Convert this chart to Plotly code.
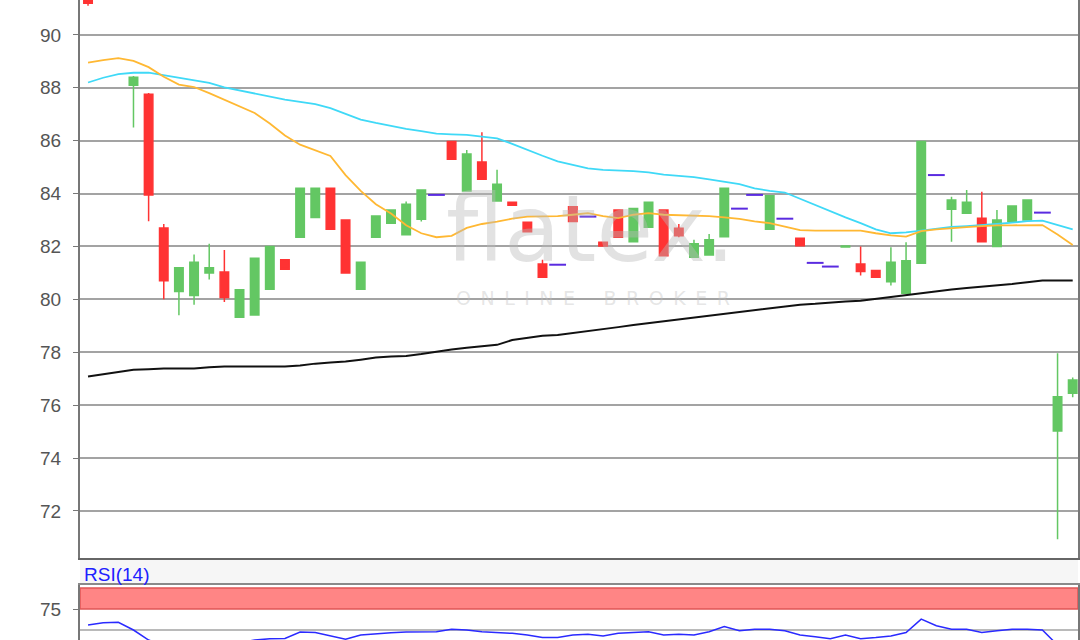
import plotly.graph_objects as go

# ---------------- data ----------------
candle_idx = [0, 3, 4, 5, 6, 7, 8, 9, 10, 11, 12, 13, 14, 15, 16, 17, 18, 19, 20, 21, 22,
              24, 25, 26, 27, 28, 29, 30, 32, 34, 35, 36, 37, 38, 39, 40, 41, 42, 45, 47,
              50, 51, 52, 53, 54, 55, 57, 58, 59, 60, 61, 62, 64, 65]
opens = [91.8, 88.1, 87.76, 82.7, 80.3, 80.15, 81.0, 81.03, 79.32, 79.41, 80.38, 81.5, 82.35, 83.1, 84.2, 83.0, 80.38, 82.35, 82.88, 82.44, 83.03,
         85.97, 84.1, 85.19, 83.72, 83.67, 82.92, 81.34, 83.5, 82.16, 83.38, 82.18, 82.73, 83.38, 82.69, 81.59, 81.68, 82.37, 82.65, 82.31,
         81.98, 81.34, 81.09, 80.67, 80.23, 81.37, 83.41, 83.26, 83.07, 82.0, 82.94, 83.0, 75.02, 76.45]
highs = [92.0, 88.45, 87.8, 82.85, 81.2, 81.7, 82.1, 81.87, 80.36, 81.55, 82.0, 81.5, 84.2, 84.2, 84.2, 83.0, 81.4, 83.15, 83.38, 83.7, 84.14,
         85.97, 85.65, 86.32, 84.9, 83.67, 82.92, 81.5, 83.5, 82.16, 83.38, 83.44, 83.67, 83.38, 82.85, 82.25, 82.47, 84.2, 83.92, 82.31,
         82.02, 82.0, 81.09, 81.97, 82.16, 85.97, 83.88, 84.14, 84.07, 83.38, 83.53, 83.76, 77.96, 77.05]
lows = [91.1, 86.5, 82.95, 80.0, 79.4, 79.8, 80.75, 79.9, 79.3, 79.41, 80.38, 81.14, 82.35, 83.1, 82.65, 81.0, 80.38, 82.35, 82.88, 82.44, 82.94,
        85.3, 84.1, 84.54, 83.72, 83.56, 82.56, 80.84, 82.94, 82.02, 82.35, 82.18, 82.73, 81.65, 82.35, 81.59, 81.68, 82.37, 82.65, 82.03,
        81.98, 80.9, 80.84, 80.52, 80.2, 81.37, 82.18, 83.26, 82.18, 82.0, 82.94, 83.0, 70.93, 76.3]
closes = [91.2, 88.4, 83.95, 80.7, 81.2, 81.4, 81.2, 80.07, 80.36, 81.55, 82.0, 81.14, 84.2, 84.2, 82.65, 81.0, 81.4, 83.15, 83.38, 83.6, 84.14,
          85.3, 85.5, 84.54, 84.35, 83.56, 82.56, 80.84, 82.94, 82.02, 82.35, 83.44, 83.67, 81.65, 82.41, 82.1, 82.25, 84.2, 83.92, 82.03,
          82.02, 81.05, 80.84, 81.4, 81.46, 85.97, 83.76, 83.67, 82.18, 83.0, 83.53, 83.76, 76.32, 76.95]

flat_idx = [23, 31, 33, 43, 44, 46, 48, 49, 56, 63]
flat_price = [83.95, 81.31, 83.13, 83.43, 83.95, 83.05, 81.38, 81.24, 84.7, 83.28]

days = list(range(66))
ma_orange = [88.95, 89.05, 89.12, 89.02, 88.78, 88.42, 88.12, 88.03, 87.8, 87.55,
             87.29, 87.05, 86.65, 86.2, 85.85, 85.65, 85.42, 84.7, 84.1, 83.6,
             83.25, 82.8, 82.5, 82.35, 82.4, 82.7, 82.85, 82.94, 83.05, 83.13,
             83.15, 83.15, 83.2, 83.26, 83.15, 83.07, 83.2, 83.26, 83.2, 83.19,
             83.17, 83.15, 83.1, 83.04, 82.95, 82.88, 82.75, 82.62, 82.6, 82.6,
             82.6, 82.6, 82.5, 82.42, 82.37, 82.58, 82.65, 82.7, 82.73, 82.77,
             82.8, 82.8, 82.81, 82.81, 82.45, 82.06]
ma_cyan = [88.2, 88.38, 88.52, 88.57, 88.57, 88.48, 88.37, 88.28, 88.19, 88.02,
           87.9, 87.8, 87.68, 87.55, 87.47, 87.38, 87.23, 87.0, 86.8, 86.67,
           86.55, 86.45, 86.36, 86.27, 86.24, 86.22, 86.15, 86.09, 85.88, 85.65,
           85.43, 85.22, 85.08, 84.95, 84.9, 84.88, 84.85, 84.8, 84.72, 84.67,
           84.62, 84.54, 84.45, 84.36, 84.2, 84.1, 84.04, 83.8, 83.58, 83.35,
           83.1, 82.88, 82.65, 82.5, 82.53, 82.6, 82.68, 82.74, 82.77, 82.8,
           82.85, 82.9, 82.96, 82.98, 82.82, 82.65]
ma_black = [77.08, 77.17, 77.27, 77.34, 77.36, 77.39, 77.39, 77.39, 77.43, 77.46,
            77.46, 77.46, 77.46, 77.46, 77.5, 77.57, 77.61, 77.65, 77.72, 77.8,
            77.84, 77.86, 77.93, 78.02, 78.1, 78.17, 78.23, 78.28, 78.46, 78.53,
            78.62, 78.65, 78.72, 78.8, 78.88, 78.95, 79.03, 79.1, 79.18, 79.25,
            79.33, 79.4, 79.47, 79.54, 79.6, 79.67, 79.74, 79.8, 79.83, 79.88,
            79.92, 79.95, 80.02, 80.1, 80.17, 80.25, 80.31, 80.37, 80.43, 80.48,
            80.51, 80.58, 80.65, 80.71, 80.71, 80.71]
rsi = [56, 58.5, 59.2, 50, 38, 32, 33, 34, 35, 33,
       35, 38, 39.5, 40, 47.5, 47, 43, 39, 44, 45.5,
       46.8, 47.5, 48, 48, 51, 50, 48, 47, 46, 44,
       41, 41, 44, 45, 43, 46, 47, 48, 44, 45,
       44, 48, 54, 49.2, 51, 51, 49, 44, 42, 39.5,
       44, 39.5, 41, 43, 47, 63, 55, 51, 51, 47,
       49, 51, 51, 50, 32, 35]

price_ticks = [72, 74, 76, 78, 80, 82, 84, 86, 88, 90]
rsi_ticks = [75]
rsi_band = [75, 100]
rsi_mid = 50

# ---------------- figure ----------------
fig = go.Figure()

fig.add_trace(go.Scatter(x=days, y=ma_black, mode="lines", line=dict(color="#111111", width=2),
                         hoverinfo="skip", showlegend=False))
fig.add_trace(go.Scatter(x=days, y=ma_cyan, mode="lines", line=dict(color="#3fd9f7", width=1.8),
                         hoverinfo="skip", showlegend=False))
fig.add_trace(go.Scatter(x=days, y=ma_orange, mode="lines", line=dict(color="#ffb833", width=1.8),
                         hoverinfo="skip", showlegend=False))

fig.add_trace(go.Candlestick(
    x=candle_idx, open=opens, high=highs, low=lows, close=closes,
    increasing=dict(line=dict(color="#63c763", width=1.5), fillcolor="#63c763"),
    decreasing=dict(line=dict(color="#ff3333", width=1.5), fillcolor="#ff3333"),
    whiskerwidth=0, showlegend=False))

fig.add_trace(go.Scatter(x=flat_idx, y=flat_price, mode="markers",
                         marker=dict(symbol="line-ew", size=12, line=dict(color="#5a2be0", width=2)),
                         showlegend=False))

fig.add_trace(go.Scatter(x=days, y=rsi, mode="lines", line=dict(color="#2a2aff", width=1.5),
                         xaxis="x2", yaxis="y2", showlegend=False))

grid_col = "#a3a3a3"
fig.update_layout(
    width=1080, height=640,
    margin=dict(l=80, r=2, t=0, b=0),
    paper_bgcolor="white", plot_bgcolor="white",
    boxgap=0.2,
    font=dict(family="Liberation Sans, Arial, sans-serif"),
    xaxis=dict(domain=[0, 1], range=[-0.53, 65.35], showticklabels=False, showgrid=False,
               zeroline=False, rangeslider=dict(visible=False), showline=True,
               linecolor="#666666", linewidth=2, mirror=False, ticks=""),
    yaxis=dict(domain=[1 - 558 / 640, 1], range=[70.22, 91.32], tickvals=price_ticks,
               showgrid=True, gridcolor=grid_col, gridwidth=1.5, zeroline=False,
               showline=True, linecolor="#777777", linewidth=2, mirror=True,
               ticks="outside", ticklen=5, tickcolor="#777777", ticklabelstandoff=8,
               tickfont=dict(size=19, color="#555555")),
    xaxis2=dict(domain=[0, 1], range=[-0.53, 65.35], anchor="y2", showticklabels=False,
                showgrid=False, zeroline=False, showline=True, linecolor="#8a8a8a",
                linewidth=1.5, mirror=True, ticks=""),
    yaxis2=dict(domain=[0, 55 / 640], range=[38.1, 103.6], anchor="x2", tickvals=rsi_ticks,
                showgrid=False, zeroline=False, showline=True, linecolor="#777777",
                linewidth=2, mirror=True, ticks="outside", ticklen=5, tickcolor="#777777",
                ticklabelstandoff=8, tickfont=dict(size=19, color="#555555")),
)

# gap between panels
fig.add_shape(type="rect", xref="paper", yref="paper", x0=0, x1=1,
              y0=55 / 640, y1=1 - 558 / 640, fillcolor="#f6f6f6", line=dict(width=0), layer="below")
# RSI band and mid line
fig.add_shape(type="rect", xref="x2 domain", yref="y2", x0=0, x1=1, y0=rsi_band[0], y1=rsi_band[1],
              fillcolor="#ff8585", line=dict(color="#e05555", width=1.5), layer="below")
fig.add_shape(type="line", xref="x2 domain", yref="y2", x0=0, x1=1, y0=rsi_mid, y1=rsi_mid,
              line=dict(color=grid_col, width=1.5), layer="below")

fig.add_annotation(text="RSI(14)", xref="paper", yref="paper", x=0.002, y=1 - 562 / 640,
                   xanchor="left", yanchor="top", showarrow=False,
                   font=dict(size=19, color="#2020ff"))

# watermark
fig.add_annotation(text="flatex.", xref="paper", yref="paper", x=(590 - 80) / 998, y=1 - 229 / 640,
                   xanchor="center", yanchor="middle", showarrow=False,
                   font=dict(size=92, color="rgba(185,185,185,0.42)", family="DejaVu Sans, sans-serif"))
sp = "\u2002"
fig.add_annotation(text=sp.join("ONLINE") + sp * 3 + sp.join("BROKER"), xref="paper", yref="paper",
                   x=(593 - 80) / 998, y=1 - 298 / 640, xanchor="center", yanchor="middle",
                   showarrow=False,
                   font=dict(size=19, color="rgba(190,190,190,0.4)", family="DejaVu Sans, sans-serif"))

fig.write_html("out.html", config={"displayModeBar": False},
               post_script="document.body.style.margin='0';document.body.style.overflow='hidden';")
